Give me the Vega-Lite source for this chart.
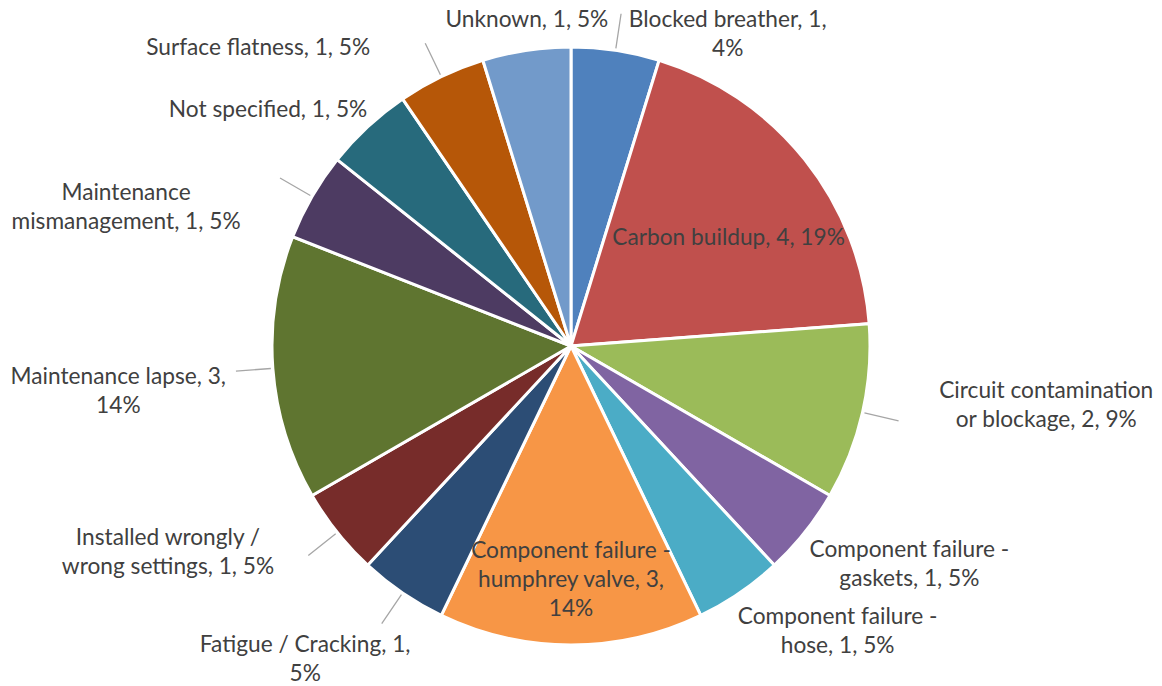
{
  "$schema": "https://vega.github.io/schema/vega-lite/v6.json",
  "width": 1142,
  "height": 680,
  "autosize": "none",
  "padding": {"left": 0, "top": 6, "right": 20, "bottom": 0},
  "background": "white",
  "config": {
    "view": {"stroke": null},
    "text": {"font": "Lato", "fontSize": 22.7, "color": "#404040", "lineBreak": "\n", "lineHeight": 29}
  },
  "data": {
    "values": [
      {"ord": 1, "cause": "Blocked breather", "count": 1, "label": "Blocked breather, 1,\n4%"},
      {"ord": 2, "cause": "Carbon buildup", "count": 4, "label": "Carbon buildup, 4, 19%"},
      {"ord": 3, "cause": "Circuit contamination or blockage", "count": 2, "label": "Circuit contamination\nor blockage, 2, 9%"},
      {"ord": 4, "cause": "Component failure - gaskets", "count": 1, "label": "Component failure -\ngaskets, 1, 5%"},
      {"ord": 5, "cause": "Component failure - hose", "count": 1, "label": "Component failure -\nhose, 1, 5%"},
      {"ord": 6, "cause": "Component failure - humphrey valve", "count": 3, "label": "Component failure -\nhumphrey valve, 3,\n14%"},
      {"ord": 7, "cause": "Fatigue / Cracking", "count": 1, "label": "Fatigue / Cracking, 1,\n5%"},
      {"ord": 8, "cause": "Installed wrongly / wrong settings", "count": 1, "label": "Installed wrongly /\nwrong settings, 1, 5%"},
      {"ord": 9, "cause": "Maintenance lapse", "count": 3, "label": "Maintenance lapse, 3,\n14%"},
      {"ord": 10, "cause": "Maintenance mismanagement", "count": 1, "label": "Maintenance\nmismanagement, 1, 5%"},
      {"ord": 11, "cause": "Not specified", "count": 1, "label": "Not specified, 1, 5%"},
      {"ord": 12, "cause": "Surface flatness", "count": 1, "label": "Surface flatness, 1, 5%"},
      {"ord": 13, "cause": "Unknown", "count": 1, "label": "Unknown, 1, 5%"}
    ]
  },
  "encoding": {
    "theta": {"field": "count", "type": "quantitative", "stack": true},
    "order": {"field": "ord", "type": "quantitative"}
  },
  "layer": [
    {
      "mark": {"type": "arc", "outerRadius": 299, "stroke": "white", "strokeWidth": 3},
      "encoding": {
        "color": {
          "field": "cause", "type": "nominal", "legend": null,
          "scale": {
            "domain": ["Blocked breather", "Carbon buildup", "Circuit contamination or blockage", "Component failure - gaskets", "Component failure - hose", "Component failure - humphrey valve", "Fatigue / Cracking", "Installed wrongly / wrong settings", "Maintenance lapse", "Maintenance mismanagement", "Not specified", "Surface flatness", "Unknown"],
            "range": ["#4F81BD", "#C0504D", "#9BBB59", "#8064A2", "#4BACC6", "#F79646", "#2C4D75", "#772C2A", "#5F7530", "#4D3B62", "#276A7C", "#B65708", "#729ACA"]
          }
        }
      }
    },
    {
      "mark": {"type": "arc", "innerRadius": 301, "outerRadius": 336, "padAngle": 3.14, "fill": "transparent", "strokeWidth": 1.3},
      "encoding": {
        "stroke": {"condition": {"test": "indexof([1,3,7,8,9,10,12], datum.ord) >= 0", "value": "#A6A6A6"}, "value": "transparent"}
      }
    },
    {"mark": {"type": "text", "radius": 349, "thetaOffset": 0.316, "dy": -14.5}, "encoding": {"text": {"condition": {"test": "datum.ord === 1", "field": "label"}, "value": ""}}},
    {"mark": {"type": "text", "radius": 191, "thetaOffset": 0.073}, "encoding": {"text": {"condition": {"test": "datum.ord === 2", "field": "label"}, "value": ""}}},
    {"mark": {"type": "text", "radius": 479, "thetaOffset": -0.099, "dy": -14.5}, "encoding": {"text": {"condition": {"test": "datum.ord === 3", "field": "label"}, "value": ""}}},
    {"mark": {"type": "text", "radius": 403, "thetaOffset": -0.099, "dy": -14.5}, "encoding": {"text": {"condition": {"test": "datum.ord === 4", "field": "label"}, "value": ""}}},
    {"mark": {"type": "text", "radius": 391, "thetaOffset": -0.152, "dy": -14.5}, "encoding": {"text": {"condition": {"test": "datum.ord === 5", "field": "label"}, "value": ""}}},
    {"mark": {"type": "text", "radius": 234, "thetaOffset": 0, "dy": -29}, "encoding": {"text": {"condition": {"test": "datum.ord === 6", "field": "label"}, "value": ""}}},
    {"mark": {"type": "text", "radius": 411, "thetaOffset": 0.105, "dy": -14.5}, "encoding": {"text": {"condition": {"test": "datum.ord === 7", "field": "label"}, "value": ""}}},
    {"mark": {"type": "text", "radius": 453, "thetaOffset": 0.199, "dy": -14.5}, "encoding": {"text": {"condition": {"test": "datum.ord === 8", "field": "label"}, "value": ""}}},
    {"mark": {"type": "text", "radius": 455, "thetaOffset": -0.026, "dy": -14.5}, "encoding": {"text": {"condition": {"test": "datum.ord === 9", "field": "label"}, "value": ""}}},
    {"mark": {"type": "text", "radius": 466, "thetaOffset": -0.222, "dy": -14.5}, "encoding": {"text": {"condition": {"test": "datum.ord === 10", "field": "label"}, "value": ""}}},
    {"mark": {"type": "text", "radius": 384, "thetaOffset": -0.161}, "encoding": {"text": {"condition": {"test": "datum.ord === 11", "field": "label"}, "value": ""}}},
    {"mark": {"type": "text", "radius": 432, "thetaOffset": -0.361}, "encoding": {"text": {"condition": {"test": "datum.ord === 12", "field": "label"}, "value": ""}}},
    {"mark": {"type": "text", "radius": 329, "thetaOffset": 0.015}, "encoding": {"text": {"condition": {"test": "datum.ord === 13", "field": "label"}, "value": ""}}}
  ]
}
